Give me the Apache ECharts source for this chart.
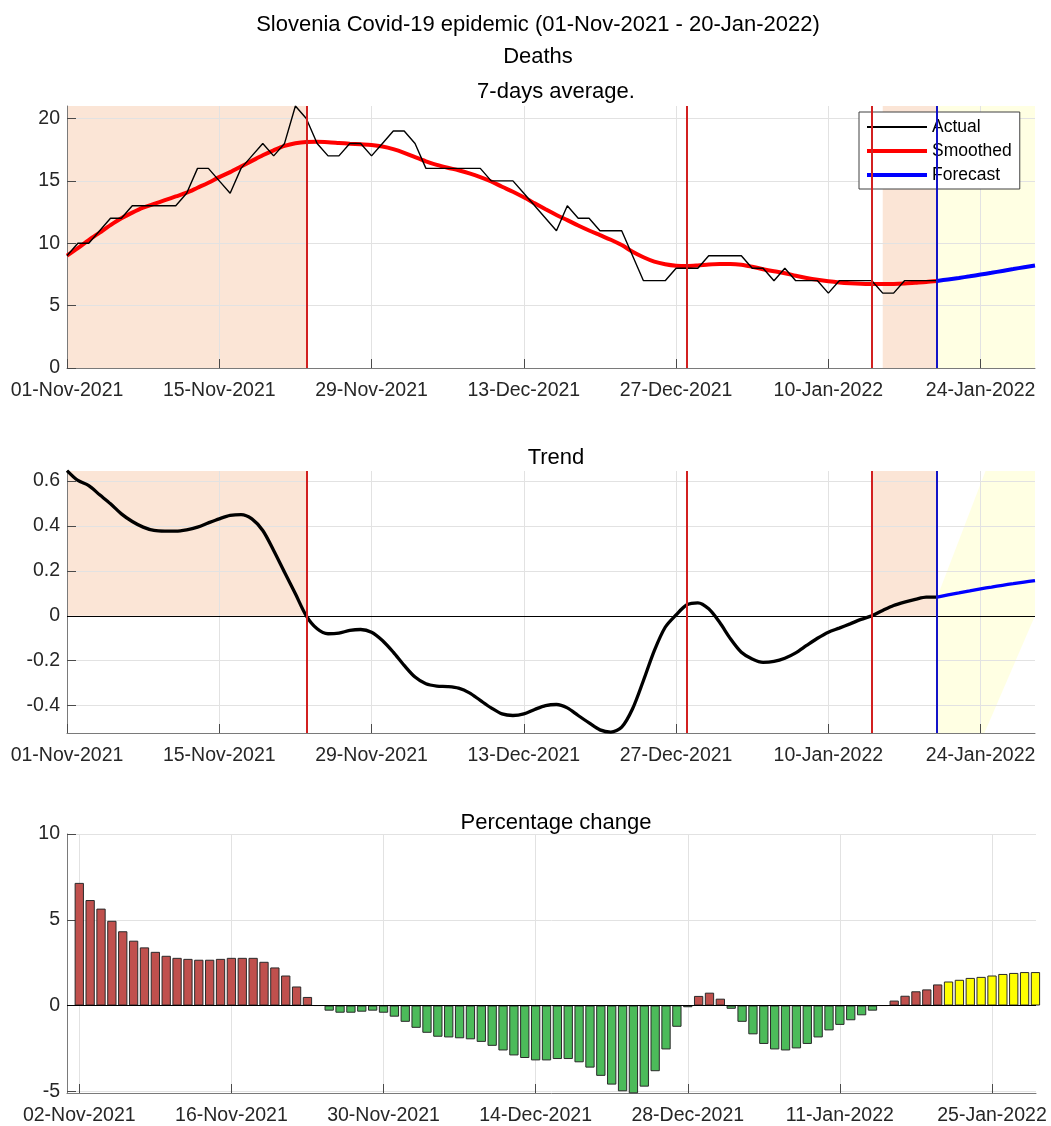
<!DOCTYPE html>
<html><head><meta charset="utf-8">
<script src="https://cdn.jsdelivr.net/npm/echarts@6/dist/echarts.min.js"></script>
<style>html,body{margin:0;padding:0;background:#fff}#c{width:1051px;height:1126px}</style>
</head><body><div id="c"></div>
<script>
// ---------- DATA (day index 0 = 01-Nov-2021) ----------
const actual = [
  9,10,10,11,12,12,13,13,13,13,
  13,14,16,16,15,14,16,17,18,17,
  18,21,20,18,17,17,18,18,17,18,
  19,19,18,16,16,16,16,16,16,15,
  15,15,14,13,12,11,13,12,12,11,
  11,11,9,7,7,7,8,8,8,9,
  9,9,9,8,8,7,8,7,7,7,
  6,7,7,7,7,6,6,7,7,7,7
];
const smoothed = [
  9.0,9.6,10.25,10.85,11.45,12.0,12.45,12.85,13.15,13.45,
  13.75,14.05,14.45,14.85,15.3,15.7,16.15,16.6,17.05,17.45,
  17.8,18.02,18.12,18.13,18.1,18.04,17.98,17.93,17.87,17.75,
  17.54,17.25,16.9,16.57,16.28,16.05,15.85,15.6,15.3,14.95,
  14.53,14.13,13.68,13.2,12.72,12.26,11.85,11.42,11.02,10.65,
  10.28,9.85,9.32,8.88,8.53,8.32,8.2,8.17,8.22,8.3,
  8.34,8.34,8.28,8.12,7.92,7.75,7.6,7.4,7.22,7.07,
  6.95,6.86,6.8,6.76,6.74,6.73,6.74,6.78,6.84,6.9,6.98
];
const smoothedForecast = [6.98,7.1,7.22,7.35,7.49,7.63,7.78,7.93,8.08,8.22]; // days 80..89
const trend = [
  0.647,0.603,0.58,0.539,0.499,0.454,0.42,0.395,0.38,0.377,
  0.377,0.383,0.395,0.414,0.432,0.447,0.451,0.432,0.38,0.291,
  0.194,0.098,0.0,-0.058,-0.08,-0.077,-0.065,-0.061,-0.073,-0.11,
  -0.162,-0.221,-0.273,-0.303,-0.313,-0.315,-0.322,-0.343,-0.377,-0.41,
  -0.437,-0.444,-0.437,-0.417,-0.4,-0.395,-0.41,-0.444,-0.477,-0.508,
  -0.518,-0.496,-0.414,-0.288,-0.155,-0.051,0.004,0.049,0.058,0.031,
  -0.029,-0.102,-0.162,-0.192,-0.207,-0.203,-0.189,-0.165,-0.132,-0.1,
  -0.073,-0.055,-0.036,-0.016,0.0,0.024,0.046,0.061,0.073,0.083,0.083
];
const trendForecast = [0.083,0.093,0.102,0.111,0.12,0.128,0.136,0.143,0.15,0.157]; // days 80..89
const pctChange = [ // days 1..89 (02-Nov-2021 .. 29-Jan-2022)
  7.15,6.15,5.65,4.94,4.33,3.78,3.39,3.13,2.9,2.78,
  2.72,2.67,2.67,2.72,2.78,2.78,2.78,2.55,2.22,1.75,
  1.11,0.5,0.0,-0.30,-0.42,-0.42,-0.36,-0.30,-0.42,-0.65,
  -0.95,-1.30,-1.59,-1.82,-1.86,-1.91,-1.97,-2.12,-2.35,-2.62,
  -2.91,-3.06,-3.2,-3.2,-3.12,-3.12,-3.31,-3.62,-4.10,-4.61,
  -5.0,-5.12,-4.73,-3.83,-2.56,-1.24,-0.1,0.56,0.75,0.4,
  -0.19,-0.95,-1.68,-2.24,-2.56,-2.62,-2.5,-2.24,-1.86,-1.45,
  -1.13,-0.86,-0.57,-0.30,0.0,0.29,0.57,0.83,0.94,1.23,
  1.40,1.50,1.61,1.67,1.75,1.84,1.90,1.95,1.95
];
const forecastStartDay = 80;
const redLineDays = [22, 57, 74];
const topPeachBands = [[0, 22], [75, 80]];
const topYellowBands = [[80, 89]];
const trendPeachBands = [[0, 22], [74, 80]];
const trendCone = [[80, 0.083], [89, 1.22], [89, 0.0], [80, -1.01]];
const topTickDays = [0, 14, 28, 42, 56, 70, 84];
const topTickLabels = ['01-Nov-2021','15-Nov-2021','29-Nov-2021','13-Dec-2021','27-Dec-2021','10-Jan-2022','24-Jan-2022'];
const barTickDays = [1, 15, 29, 43, 57, 71, 85];
const barTickLabels = ['02-Nov-2021','16-Nov-2021','30-Nov-2021','14-Dec-2021','28-Dec-2021','11-Jan-2022','25-Jan-2022'];
const avgYTicks = [0, 5, 10, 15, 20];
const trendYTicks = [-0.4, -0.2, 0, 0.2, 0.4, 0.6];
const pctYTicks = [-5, 0, 5, 10];
const titles = ['Slovenia Covid-19 epidemic (01-Nov-2021 - 20-Jan-2022)', 'Deaths', '7-days average.', 'Trend', 'Percentage change'];

// ---------- CHART ----------
const font = "'Liberation Sans', Arial, Helvetica, sans-serif";
const PEACH = '#FBE5D6', YELLOW = '#FFFFE3';
const pairs = (arr, start) => arr.map((v, i) => [start + i, v]);
const lookup = (days, labels) => v => { const i = days.findIndex(d => Math.abs(d - v) < 1e-6); return i >= 0 ? labels[i] : ''; };

function xAxisCfg(gridIndex, min, max, days, labels) {
  return {
    type: 'value', gridIndex, min, max,
    axisLine: { show: true, onZero: false, lineStyle: { color: '#7a7a7a', width: 1 } },
    axisTick: { show: true, inside: true, length: 9, customValues: days, lineStyle: { color: '#4a4a4a' } },
    axisLabel: { customValues: days, margin: 13, fontSize: 19.5, color: '#262626', fontFamily: font, formatter: lookup(days, labels) },
    splitLine: { show: true, lineStyle: { color: '#e2e2e2', width: 1 } }
  };
}
function yAxisCfg(gridIndex, min, max, ticks, fmt) {
  return {
    type: 'value', gridIndex, min, max,
    axisLine: { show: true, onZero: false, lineStyle: { color: '#7a7a7a', width: 1 } },
    axisTick: { show: true, inside: true, length: 9, customValues: ticks, lineStyle: { color: '#4a4a4a' } },
    axisLabel: { customValues: ticks, margin: 7, fontSize: 19.5, color: '#262626', fontFamily: font, formatter: fmt || (v => String(v)) },
    splitLine: { show: true, lineStyle: { color: '#e2e2e2', width: 1 } }
  };
}
function bandSeries(idx, bands, color, aboveZero) {
  return {
    type: 'custom', xAxisIndex: idx, yAxisIndex: idx, z: -1, silent: true, clip: true,
    encode: { x: [0, 1], y: 2 },
    data: bands.map(b => [b[0], b[1], 0]),
    renderItem: (params, api) => {
      const cs = params.coordSys;
      const p0 = api.coord([api.value(0), 0]);
      const p1 = api.coord([api.value(1), 0]);
      const yTop = cs.y;
      const yBot = aboveZero ? p0[1] : cs.y + cs.height;
      return { type: 'rect', shape: { x: p0[0], y: yTop, width: p1[0] - p0[0], height: yBot - yTop }, style: { fill: color } };
    }
  };
}
const vLines = () => [
  ...redLineDays.map(d => ({ xAxis: d, lineStyle: { color: '#D22020', width: 2, type: 'solid' } })),
  { xAxis: forecastStartDay, lineStyle: { color: '#1414C8', width: 2, type: 'solid' } }
];
const mlBase = { silent: true, symbol: ['none', 'none'], label: { show: false }, animation: false };
const tStyle = { fontSize: 22, fontWeight: 'normal', color: '#000', fontFamily: font };

const option = {
  animation: false,
  backgroundColor: '#fff',
  textStyle: { fontFamily: font },
  title: [
    { text: titles[0], left: 533, top: 9, textAlign: 'center', textStyle: tStyle },
    { text: titles[1], left: 533, top: 41, textAlign: 'center', textStyle: tStyle },
    { text: titles[2], left: 551, top: 76, textAlign: 'center', textStyle: tStyle },
    { text: titles[3], left: 551, top: 442, textAlign: 'center', textStyle: tStyle },
    { text: titles[4], left: 551, top: 807, textAlign: 'center', textStyle: tStyle }
  ],
  legend: {
    orient: 'vertical', left: 859, top: 112, padding: [6, 8, 5, 6], itemGap: 6,
    itemWidth: 60, itemHeight: 18, backgroundColor: '#fff', borderColor: '#404040', borderWidth: 1,
    selectedMode: false,
    textStyle: { fontSize: 17.5, color: '#000', fontFamily: font, lineHeight: 18 },
    data: [
      { name: 'Actual', lineStyle: { width: 2 }, itemStyle: { opacity: 0 } },
      { name: 'Smoothed', lineStyle: { width: 4 }, itemStyle: { opacity: 0 } },
      { name: 'Forecast', lineStyle: { width: 4 }, itemStyle: { opacity: 0 } }
    ]
  },
  grid: [
    { left: 67, top: 106, width: 968, height: 262 },
    { left: 67, top: 471, width: 968, height: 262 },
    { left: 67, top: 834, width: 969, height: 262.5 }
  ],
  xAxis: [
    xAxisCfg(0, 0, 89, topTickDays, topTickLabels),
    xAxisCfg(1, 0, 89, topTickDays, topTickLabels),
    xAxisCfg(2, -0.13, 89.05, barTickDays, barTickLabels)
  ],
  yAxis: [
    yAxisCfg(0, 0, 21, avgYTicks),
    yAxisCfg(1, -0.522, 0.645, trendYTicks, v => String(Math.round(v * 10) / 10)),
    yAxisCfg(2, -5.1, 10, pctYTicks)
  ],
  series: [
    // ---- 7-days average ----
    bandSeries(0, topPeachBands, PEACH, false),
    bandSeries(0, topYellowBands, YELLOW, false),
    { type: 'line', name: 'vlines0', xAxisIndex: 0, yAxisIndex: 0, data: [], markLine: Object.assign({}, mlBase, { data: vLines() }) },
    { type: 'line', name: 'Smoothed', xAxisIndex: 0, yAxisIndex: 0, data: pairs(smoothed, 0), symbol: 'none', smooth: 0.3, lineStyle: { color: '#FF0000', width: 4 }, itemStyle: { color: '#FF0000' } },
    { type: 'line', name: 'Forecast', xAxisIndex: 0, yAxisIndex: 0, data: pairs(smoothedForecast, forecastStartDay), symbol: 'none', smooth: 0.3, lineStyle: { color: '#0000FF', width: 4 }, itemStyle: { color: '#0000FF' } },
    { type: 'line', name: 'Actual', xAxisIndex: 0, yAxisIndex: 0, data: pairs(actual, 0), symbol: 'none', lineStyle: { color: '#000', width: 1.4 }, itemStyle: { color: '#000' } },
    // ---- Trend ----
    bandSeries(1, trendPeachBands, PEACH, true),
    {
      type: 'custom', xAxisIndex: 1, yAxisIndex: 1, z: -1, silent: true, clip: true,
      data: [[forecastStartDay, 0]],
      renderItem: (params, api) => ({
        type: 'polygon',
        shape: { points: trendCone.map(p => api.coord(p)) },
        style: { fill: YELLOW }
      })
    },
    { type: 'line', name: 'vlines1', xAxisIndex: 1, yAxisIndex: 1, data: [],
      markLine: Object.assign({}, mlBase, { data: [{ yAxis: 0, lineStyle: { color: '#000', width: 1, type: 'solid' } }, ...vLines()] }) },
    { type: 'line', name: 'Trend', xAxisIndex: 1, yAxisIndex: 1, data: pairs(trend, 0), symbol: 'none', smooth: 0.3, lineStyle: { color: '#000', width: 3.3 }, itemStyle: { color: '#000' } },
    { type: 'line', name: 'Trend forecast', xAxisIndex: 1, yAxisIndex: 1, data: pairs(trendForecast, forecastStartDay), symbol: 'none', smooth: 0.3, lineStyle: { color: '#0000FF', width: 3.3 }, itemStyle: { color: '#0000FF' } },
    // ---- Percentage change ----
    {
      type: 'bar', name: 'Percentage change', xAxisIndex: 2, yAxisIndex: 2, barWidth: 9.3,
      data: pairs(pctChange, 1),
      itemStyle: {
        borderColor: '#2a2a2a', borderWidth: 1,
        color: p => p.value[0] > forecastStartDay ? '#FFFF00' : (p.value[1] >= 0 ? '#C0504D' : '#4CBB5A')
      },
      markLine: Object.assign({}, mlBase, { data: [{ yAxis: 0, lineStyle: { color: '#000', width: 1, type: 'solid' } }] })
    }
  ]
};
const chart = echarts.init(document.getElementById('c'), null, { renderer: 'canvas' });
chart.setOption(option);
</script>
</body></html>
